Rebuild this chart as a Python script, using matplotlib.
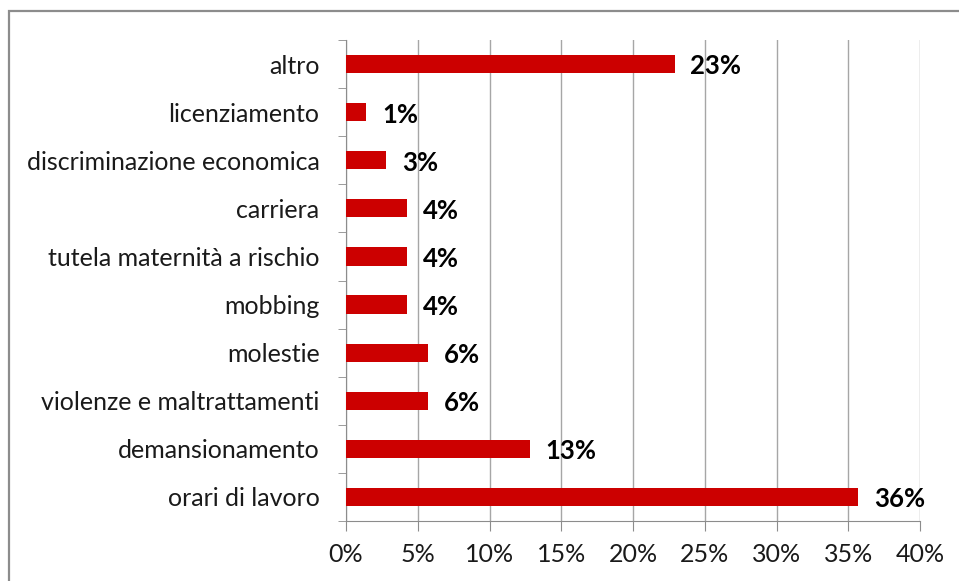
import numpy as np
import matplotlib.pyplot as plt
from matplotlib.patches import Rectangle
from matplotlib.ticker import FuncFormatter

# categorie dal basso verso l'alto
categorie = [
    "orari di lavoro",
    "demansionamento",
    "violenze e maltrattamenti",
    "molestie",
    "mobbing",
    "tutela maternità a rischio",
    "carriera",
    "discriminazione economica",
    "licenziamento",
    "altro",
]
valori = [35.7, 12.8, 5.7, 5.7, 4.25, 4.25, 4.25, 2.8, 1.4, 22.9]
etichette = ["36%", "13%", "6%", "6%", "4%", "4%", "4%", "3%", "1%", "23%"]
tick_x = [0, 5, 10, 15, 20, 25, 30, 35, 40]

plt.rcParams["font.family"] = ["Lato", "DejaVu Sans"]

W, H = 959, 581
fig = plt.figure(figsize=(W / 100, H / 100), dpi=100)

# cornice grigia (tagliata a destra e in basso come nell'originale)
fig.patches.append(Rectangle((9 / W, -0.1), 1.1, (H - 11) / H + 0.1,
                             transform=fig.transFigure, fill=False,
                             edgecolor="#8c8c8c", linewidth=1.6))

ax = fig.add_axes([346 / W, (H - 521) / H, (920 - 346) / W, (521 - 40) / H])

y = np.arange(len(categorie))
ax.barh(y, valori, height=0.38, color="#cc0000", zorder=3)

# etichette dei valori, leggermente sotto il centro della barra
for yi, v, lab in zip(y, valori, etichette):
    ax.text(v + 1.1, yi - 0.05, lab, va="center", ha="left", fontsize=18.5,
            fontweight="bold", color="black", zorder=4)

ax.set_xlim(0, 40)
ax.set_ylim(-0.5, len(categorie) - 0.5)
ax.set_xticks(tick_x)
ax.xaxis.set_major_formatter(FuncFormatter(lambda v, p: f"{v:.0f}%"))
ax.grid(axis="x", color="#a6a6a6", linewidth=1.0, zorder=0)

ax.set_yticks(y)
ax.set_yticklabels(categorie)
ax.set_yticks(np.arange(-0.5, len(categorie)), minor=True)
ax.tick_params(axis="y", which="major", length=0, pad=19, labelsize=18,
               labelcolor="#1a1a1a")
ax.tick_params(axis="y", which="minor", length=6, color="#8c8c8c")
ax.tick_params(axis="x", length=7, color="#8c8c8c", pad=9, labelsize=18,
               labelcolor="#1a1a1a")

for s in ["top", "right"]:
    ax.spines[s].set_visible(False)
for s in ["left", "bottom"]:
    ax.spines[s].set_color("#8c8c8c")

fig.savefig("out.png", dpi=100)
